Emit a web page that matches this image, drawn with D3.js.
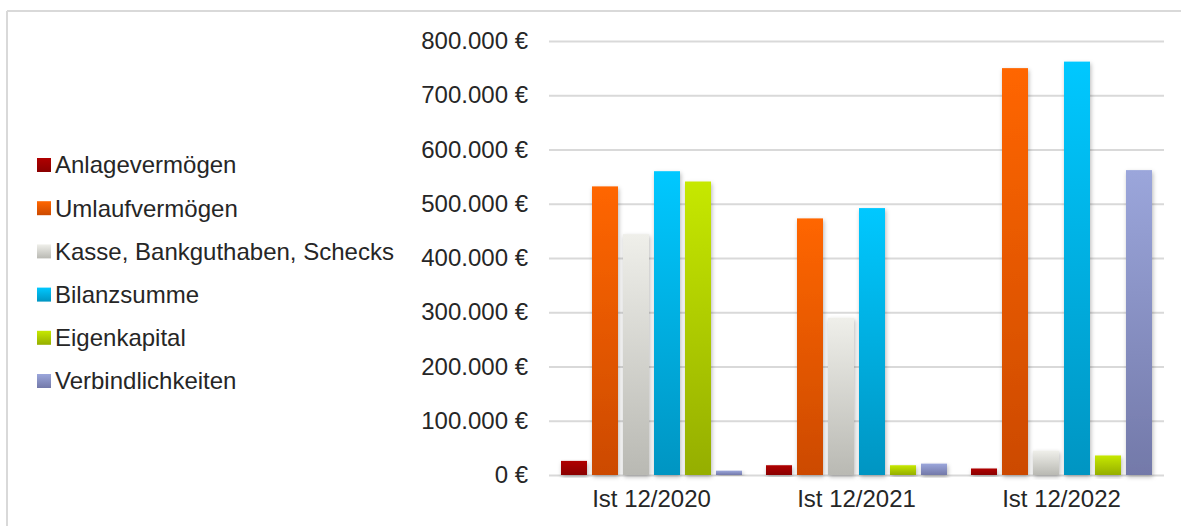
<!DOCTYPE html>
<html>
<head>
<meta charset="utf-8">
<script src="https://cdn.jsdelivr.net/npm/d3@7"></script>
<style>
  body { margin: 0; background: #fff; }
  svg { display: block; font-family: "Liberation Sans", Arial, sans-serif; }
</style>
</head>
<body>
<div id="chart"></div>
<script>
    // data
    var categories = ["Ist 12/2020", "Ist 12/2021", "Ist 12/2022"];
    var seriesNames = ["Anlagevermögen", "Umlaufvermögen", "Kasse, Bankguthaben, Schecks",
                       "Bilanzsumme", "Eigenkapital", "Verbindlichkeiten"];
    var anlage = [26000, 18000, 12000];
    var umlauf = [532000, 473000, 750000];
    var kasse = [444000, 290000, 45000];
    var bilanz = [560000, 492000, 762000];
    var eigen = [541000, 18000, 36000];
    var verbind = [8000, 21000, 562000];
    var yTicks = [0, 100000, 200000, 300000, 400000, 500000, 600000, 700000, 800000];

    var values = [anlage, umlauf, kasse, bilanz, eigen, verbind];
    // top / bottom colour of each series gradient
    var topCols = ["#b00000", "#ff6600", "#efefea", "#00c8ff", "#c6e800", "#9ba6db"];
    var botCols = ["#8a0000", "#cc4a00", "#b9b9b3", "#0095c2", "#95ae00", "#7379a9"];

    var W = 1181, H = 526;
    var svg = d3.select("#chart").append("svg")
                .attr("width", W)
                .attr("height", H);

    var defs = svg.append("defs");
    seriesNames.forEach(function(s, i){
        var g = defs.append("linearGradient")
                    .attr("id", "grad" + i)
                    .attr("x1", 0).attr("y1", 0).attr("x2", 0).attr("y2", 1);
        g.append("stop").attr("offset", "0%").attr("stop-color", topCols[i]);
        g.append("stop").attr("offset", "100%").attr("stop-color", botCols[i]);
    });
    defs.append("filter").attr("id", "shadow")
        .attr("x", "-30%").attr("y", "-10%").attr("width", "160%").attr("height", "130%")
        .append("feDropShadow")
        .attr("dx", 1).attr("dy", 2).attr("stdDeviation", 2)
        .attr("flood-color", "#000").attr("flood-opacity", 0.28);

    // outer frame (only top and left edge visible)
    svg.append("line").attr("x1", 7).attr("x2", W).attr("y1", 11).attr("y2", 11)
       .attr("stroke", "#d9d9d9").attr("stroke-width", 2);
    svg.append("line").attr("x1", 7).attr("x2", 7).attr("y1", 11).attr("y2", H)
       .attr("stroke", "#d9d9d9").attr("stroke-width", 2);

    var x0 = d3.scaleBand().domain(categories).range([549, 1164]);
    var x1 = d3.scaleBand().domain(seriesNames).range([12, 193]).paddingInner(5 / 31);
    var y = d3.scaleLinear().domain([0, 800000]).range([475, 41]);

    var de = d3.formatLocale({decimal: ",", thousands: ".", grouping: [3], currency: ["", "\u00a0€"]});
    var fmt = de.format("$,.0f");

    // gridlines + y labels
    var yAxis = d3.axisLeft(y).tickValues(yTicks).tickFormat(fmt)
                  .tickSize(-(1164 - 549)).tickPadding(21);
    var ga = svg.append("g").attr("transform", "translate(549,0)").call(yAxis);
    ga.select(".domain").remove();
    ga.selectAll(".tick line").attr("stroke", "#d9d9d9").attr("stroke-width", 2);
    ga.selectAll(".tick text").attr("fill", "#262626").style("font-size", "24px");

    // bars
    var groups = svg.selectAll(".grp")
        .data(categories)
        .enter()
        .append("g")
            .classed("grp", true)
            .attr("transform", function(d){ return "translate(" + x0(d) + ",0)"; });

    groups.selectAll("rect")
        .data(function(d, ci){
            return seriesNames.map(function(s, si){ return {s: s, i: si, v: values[si][ci]}; });
        })
        .enter()
        .append("rect")
            .attr("x", function(d){ return x1(d.s); })
            .attr("y", function(d){ return y(d.v); })
            .attr("width", x1.bandwidth())
            .attr("height", function(d){ return y(0) - y(d.v); })
            .attr("fill", function(d){ return "url(#grad" + d.i + ")"; })
            .attr("filter", "url(#shadow)");

    // category labels
    var xAxis = d3.axisBottom(x0).tickSize(0).tickPadding(15);
    var gx = svg.append("g").attr("transform", "translate(0,475)").call(xAxis);
    gx.select(".domain").remove();
    gx.selectAll(".tick text").attr("fill", "#262626").style("font-size", "24px");

    // legend
    var legend = svg.selectAll(".leg")
        .data(seriesNames)
        .enter()
        .append("g")
            .classed("leg", true)
            .attr("transform", function(d, i){ return "translate(37," + (165 + i * 43.2) + ")"; });
    legend.append("rect")
        .attr("x", 0).attr("y", -7).attr("width", 14).attr("height", 14)
        .attr("fill", function(d, i){ return "url(#grad" + i + ")"; });
    legend.append("text")
        .text(function(d){ return d; })
        .attr("x", 18)
        .attr("dy", "0.35em")
        .attr("fill", "#262626")
        .style("font-size", "24px");
</script>
</body>
</html>
